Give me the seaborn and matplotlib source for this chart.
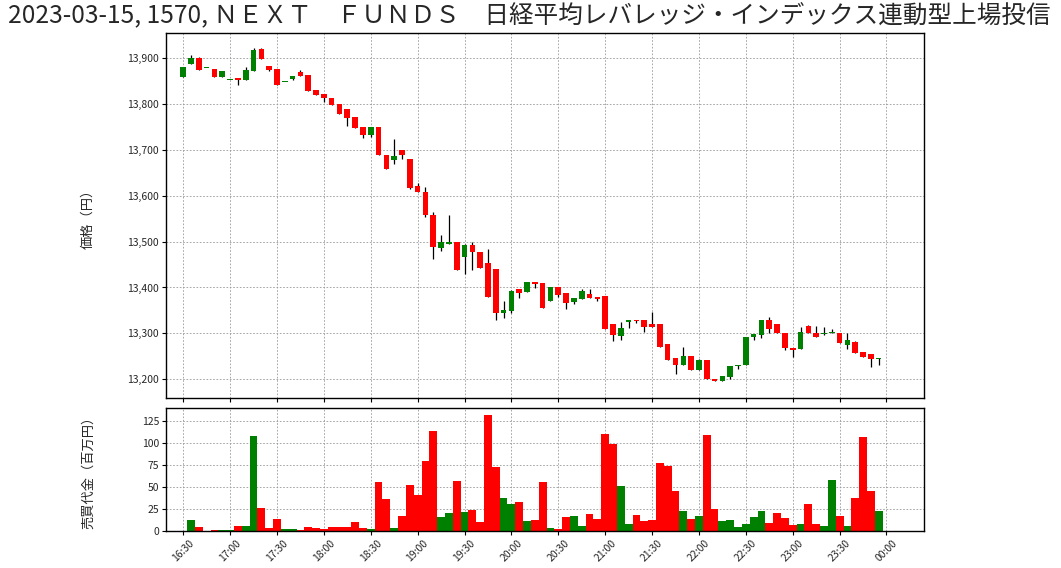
import matplotlib
matplotlib.use("Agg")
import matplotlib.pyplot as plt
import seaborn as sns
import numpy as np
import pandas as pd

# ---------------- data ----------------
title = "2023-03-15, 1570, ＮＥＸＴ　ＦＵＮＤＳ　日経平均レバレッジ・インデックス連動型上場投信"
start_time = "2023-03-15 16:30"
n_bars = 90

opens = [13860, 13888, 13901, 13878, 13876, 13859, 13853, 13856, 13853, 13873,
         13921, 13884, 13876, 13849, 13855, 13871, 13864, 13830, 13821, 13813,
         13801, 13790, 13772, 13750, 13733, 13749, 13690, 13678, 13700, 13681,
         13621, 13609, 13559, 13486, 13495, 13500, 13467, 13492, 13477, 13453,
         13440, 13345, 13349, 13396, 13390, 13412, 13409, 13371, 13401, 13388,
         13368, 13375, 13386, 13379, 13381, 13320, 13294, 13325, 13330, 13329,
         13320, 13320, 13277, 13246, 13231, 13251, 13220, 13242, 13201, 13197,
         13205, 13228, 13230, 13291, 13297, 13329, 13320, 13301, 13268, 13266,
         13317, 13301, 13299, 13300, 13300, 13275, 13281, 13259, 13254, 13245]
highs = [13881, 13907, 13902, 13878, 13876, 13872, 13853, 13856, 13880, 13922,
         13922, 13884, 13876, 13849, 13861, 13874, 13864, 13830, 13821, 13813,
         13801, 13790, 13772, 13750, 13749, 13749, 13690, 13724, 13700, 13681,
         13627, 13619, 13564, 13515, 13558, 13500, 13494, 13499, 13477, 13483,
         13440, 13370, 13394, 13396, 13411, 13412, 13409, 13401, 13401, 13388,
         13376, 13396, 13396, 13379, 13381, 13320, 13324, 13329, 13330, 13329,
         13346, 13320, 13277, 13246, 13270, 13251, 13245, 13242, 13201, 13207,
         13228, 13230, 13291, 13299, 13329, 13335, 13320, 13301, 13268, 13314,
         13318, 13315, 13314, 13309, 13300, 13300, 13284, 13259, 13254, 13246]
lows = [13859, 13888, 13875, 13878, 13859, 13859, 13853, 13842, 13853, 13873,
        13899, 13873, 13842, 13849, 13853, 13861, 13828, 13820, 13804, 13799,
        13778, 13753, 13748, 13726, 13729, 13688, 13658, 13669, 13681, 13614,
        13608, 13554, 13462, 13480, 13495, 13438, 13430, 13439, 13443, 13380,
        13330, 13333, 13345, 13378, 13390, 13399, 13356, 13371, 13380, 13354,
        13365, 13375, 13378, 13370, 13309, 13283, 13286, 13311, 13322, 13303,
        13314, 13271, 13242, 13211, 13231, 13220, 13220, 13200, 13196, 13197,
        13200, 13222, 13230, 13286, 13289, 13300, 13300, 13264, 13248, 13266,
        13300, 13291, 13297, 13300, 13280, 13265, 13258, 13248, 13226, 13230]
closes = [13880, 13901, 13875, 13878, 13859, 13872, 13853, 13853, 13874, 13918,
          13899, 13875, 13842, 13849, 13861, 13861, 13828, 13820, 13813, 13799,
          13778, 13769, 13748, 13732, 13749, 13688, 13658, 13686, 13688, 13618,
          13608, 13557, 13488, 13500, 13500, 13438, 13492, 13478, 13443, 13380,
          13345, 13351, 13393, 13388, 13411, 13407, 13356, 13401, 13384, 13367,
          13376, 13392, 13378, 13375, 13309, 13297, 13311, 13329, 13326, 13314,
          13314, 13271, 13242, 13231, 13251, 13220, 13242, 13200, 13196, 13207,
          13228, 13230, 13291, 13299, 13329, 13310, 13300, 13267, 13264, 13303,
          13300, 13291, 13301, 13301, 13280, 13286, 13258, 13248, 13244, 13246]
volumes = [0, 13, 5, 0, 1.5, 1.1, 1.1, 6, 6, 108,
           26.5, 3.8, 14, 2.7, 2.7, 1.1, 4.9, 3.8, 2.7, 4.9,
           4.9, 4.9, 10.6, 3.8, 2.7, 56, 36.7, 3.8, 17.4, 52.7,
           40.5, 80, 114, 16.3, 20.8, 57.2, 22, 24.2, 10.6, 132,
           73, 37.9, 31, 33.3, 11.7, 12.9, 56, 3.8, 2.7, 16.3,
           17.4, 6, 19.7, 14, 110.6, 99.2, 51.5, 8.3, 18.6, 11.7,
           12.9, 77.7, 74.2, 45.8, 23.1, 14, 17.4, 109.5, 25.4, 11.7,
           12.9, 4.9, 8.3, 16.3, 23.1, 9.5, 20.8, 15.2, 7.2, 8.3,
           31, 8.3, 6, 58.3, 17.4, 6, 37.9, 107, 45.8, 23.1]

price_ticks = [13200, 13300, 13400, 13500, 13600, 13700, 13800, 13900]
vol_ticks = [0, 25, 50, 75, 100, 125]
UP, DOWN = "#008000", "#ff0000"

# ---------------- frame ----------------
times = pd.date_range(start_time, periods=n_bars, freq="5min")
df = pd.DataFrame({"t": times, "o": opens, "h": highs, "l": lows, "c": closes, "v": volumes})
df["idx"] = np.arange(len(df))
df["dir"] = np.where(df["c"] >= df["o"], "up", "down")

sns.set_theme(style="white")
plt.rcParams["font.family"] = ["Noto Sans CJK JP", "DejaVu Sans"]
plt.rcParams["axes.edgecolor"] = "black"
plt.rcParams["axes.linewidth"] = 1.0

fig = plt.figure(figsize=(10.61, 5.68), dpi=100)
W, H = 1061, 568
L, R = 166, 924
ax1 = fig.add_axes([L / W, 1 - 398 / H, (R - L) / W, (398 - 33) / H])
ax2 = fig.add_axes([L / W, 1 - 531 / H, (R - L) / W, (531 - 408) / H], sharex=ax1)

grid_kw = dict(color="#999999", linestyle=(0, (2, 2)), linewidth=0.6)

# candles
body_w = 0.72
colors = [UP if d == "up" else DOWN for d in df["dir"]]
ax1.vlines(df["idx"], df["l"], df["h"], color="black", linewidth=0.9, zorder=2)
bottoms = np.minimum(df["o"], df["c"])
heights = np.maximum(np.abs(df["c"] - df["o"]), 2.0)
ax1.bar(df["idx"], heights, bottom=bottoms, width=body_w, color=colors,
        edgecolor="none", linewidth=0, zorder=3)

# volume (seaborn)
sns.barplot(data=df, x="idx", y="v", hue="dir", palette={"up": UP, "down": DOWN},
            native_scale=True, width=1.0, dodge=False, errorbar=None,
            saturation=1, legend=False, ax=ax2, edgecolor="none", linewidth=0)

# axes
ax1.set_xlim(-2.2, 94.8)
ax1.set_ylim(13159, 13955)
ax2.set_ylim(0, 140)
tick_pos = list(range(0, n_bars + 1, 6))
tick_lab = [(pd.Timestamp(start_time) + pd.Timedelta(minutes=5 * p)).strftime("%H:%M") for p in tick_pos]
ax2.set_xticks(tick_pos)
ax2.set_xticklabels(tick_lab, rotation=45, ha="center", fontsize=7.5)
ax1.tick_params(axis="x", labelbottom=False)

ax1.set_yticks(price_ticks)
ax1.set_yticklabels([f"{p:,}" for p in price_ticks], fontsize=7.5)
ax2.set_yticks(vol_ticks)
ax2.set_yticklabels([str(v) for v in vol_ticks], fontsize=7.5)

for ax in (ax1, ax2):
    ax.grid(True, **grid_kw)
    ax.set_axisbelow(True)
    ax.tick_params(axis="both", direction="out", length=3, width=0.8, color="black",
                   left=True, bottom=True, pad=2)
    for s in ax.spines.values():
        s.set_color("black")
        s.set_linewidth(1.0)
ax1.set_xlabel("")
ax2.set_xlabel("")
ax1.set_ylabel("価格（円）", fontsize=9.5)
ax2.set_ylabel("売買代金（百万円）", fontsize=9.5)
ax1.yaxis.set_label_coords(-0.094, 0.5)
ax2.yaxis.set_label_coords(-0.094, 0.5)

fig.text(8 / W, 1 - 3 / H, title, ha="left", va="top", fontsize=17.7)

fig.savefig("out.png", dpi=100)
